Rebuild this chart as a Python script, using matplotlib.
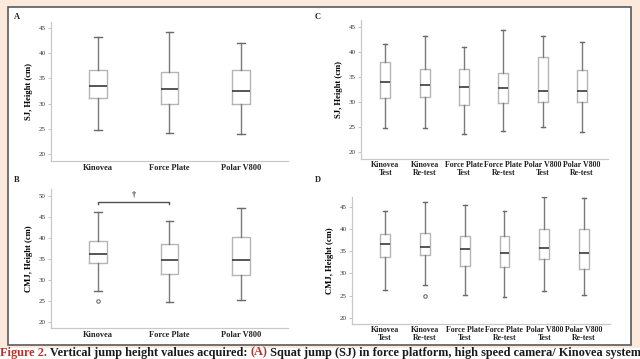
import matplotlib
matplotlib.use("Agg")
import matplotlib.pyplot as plt
from matplotlib.patches import Rectangle

# --- data ---
groups3 = ["Kinovea", "Force Plate", "Polar V800"]
groups6 = ["Kinovea\nTest", "Kinovea\nRe-test", "Force Plate\nTest",
           "Force Plate\nRe-test", "Polar V800\nTest", "Polar V800\nRe-test"]

# each row: whislo, q1, med, q3, whishi
sj_a = [[24.8, 31.1, 33.6, 36.7, 43.2],
        [24.2, 29.9, 32.9, 36.3, 44.3],
        [24.0, 30.0, 32.6, 36.6, 42.1]]
cmj_b = [[27.3, 34.0, 36.0, 39.2, 46.0],
         [24.7, 31.4, 34.6, 38.6, 44.0],
         [25.2, 31.0, 34.7, 40.1, 47.1]]
fliers_b = [[24.9], [], []]

sj_c = [[24.8, 30.9, 34.1, 38.0, 41.7],
        [24.9, 31.1, 33.5, 36.6, 43.3],
        [23.6, 29.4, 33.0, 36.6, 41.1],
        [24.2, 29.8, 32.9, 35.9, 44.5],
        [25.0, 30.0, 32.2, 39.0, 43.2],
        [24.0, 30.0, 32.2, 36.5, 42.1]]
cmj_d = [[26.2, 33.8, 36.6, 39.0, 44.1],
         [27.3, 34.1, 36.0, 39.2, 46.1],
         [25.1, 31.8, 35.6, 38.4, 45.6],
         [24.7, 31.4, 34.7, 38.5, 44.1],
         [26.1, 33.2, 35.7, 40.1, 47.3],
         [25.2, 31.1, 34.6, 40.1, 47.1]]
fliers_d = [[], [24.9], [], [], [], []]

caption = [("Figure 2.", "#b8322a"),
           (" Vertical jump height values acquired: ", "#1a1a1a"),
           ("(A)", "#b8322a"),
           (" Squat jump (SJ) in force platform, high speed camera/ Kinovea system", "#1a1a1a")]

SERIF = "Liberation Serif"
W, H = 640, 359


def to_stats(rows, fliers=None):
    out = []
    for i, r in enumerate(rows):
        out.append({"whislo": r[0], "q1": r[1], "med": r[2], "q3": r[3],
                    "whishi": r[4],
                    "fliers": fliers[i] if fliers else []})
    return out


def px_axes(fig, left, top, right, bottom):
    return fig.add_axes([left / W, 1 - bottom / H, (right - left) / W, (bottom - top) / H])


def draw_panel(ax, stats, labels, ylim, xlim, ticks, ylabel, capw, xfs, xpad):
    ax.bxp(stats, positions=range(1, len(stats) + 1), widths=0.25,
           capwidths=capw, patch_artist=False,
           boxprops=dict(color="#b5b5b5", lw=1.0),
           whiskerprops=dict(color="#7a7a7a", lw=1.0),
           capprops=dict(color="#6a6a6a", lw=1.0),
           medianprops=dict(color="#3a3a3a", lw=1.2),
           flierprops=dict(marker="o", markersize=2.5, markerfacecolor="none",
                           markeredgecolor="#707070", markeredgewidth=0.8))
    ax.set_ylim(*ylim)
    ax.set_xlim(*xlim)
    ax.set_yticks(ticks)
    ax.set_yticklabels([str(t) for t in ticks], fontsize=5, family=SERIF, color="#333333")
    ax.set_xticks(range(1, len(labels) + 1))
    ax.set_xticklabels(labels, fontsize=xfs, family=SERIF, fontweight="bold",
                       linespacing=1.0, color="#222222")
    ax.tick_params(axis="y", length=2, width=0.6, color="#bbbbbb", pad=2)
    ax.tick_params(axis="x", length=0, pad=xpad)
    for s in ["top", "right"]:
        ax.spines[s].set_visible(False)
    for s in ["left", "bottom"]:
        ax.spines[s].set_color("#c8c8c8")
        ax.spines[s].set_linewidth(0.9)
    ax.set_facecolor("none")
    ax.set_ylabel(ylabel, fontsize=6.2, family=SERIF, fontweight="bold", labelpad=4)


fig = plt.figure(figsize=(6.4, 3.59), dpi=100)
fig.patch.set_facecolor("#fbe9dc")

# white panel with frame
fig.patches.append(Rectangle((8 / W, 1 - 345 / H), 623 / W, 338 / H,
                             transform=fig.transFigure, facecolor="white",
                             edgecolor="#5a5a5a", lw=1.2, zorder=-2))
# caption strip
fig.patches.append(Rectangle((0, 0), 1, 1 - 348 / H, transform=fig.transFigure,
                             facecolor="white", edgecolor="none", zorder=-2))

ax_a = px_axes(fig, 51, 22, 288, 161)
draw_panel(ax_a, to_stats(sj_a), groups3, (18.57, 46.25), (0.34, 3.66),
           [20, 25, 30, 35, 40, 45], "SJ, Height (cm)", 0.11, 6, 2.5)

ax_b = px_axes(fig, 51, 189, 288, 328)
draw_panel(ax_b, to_stats(cmj_b, fliers_b), groups3, (18.45, 51.6), (0.34, 3.66),
           [20, 25, 30, 35, 40, 45, 50], "CMJ, Height (cm)", 0.11, 6, 2.5)
# significance bracket
ax_b.plot([1, 1, 2, 2], [48.1, 48.5, 48.5, 48.1], color="#505050", lw=1.0)
ax_b.text(1.5, 49.2, "\u2020", ha="center", va="bottom", fontsize=6,
          family=SERIF, fontweight="bold", color="#333333")

ax_c = px_axes(fig, 361, 20, 608, 159)
draw_panel(ax_c, to_stats(sj_c), groups6, (18.6, 46.45), (0.38, 6.66),
           [20, 25, 30, 35, 40, 45], "SJ, Height (cm)", 0.1, 5.7, 1.5)

ax_d = px_axes(fig, 352, 197, 610, 324)
draw_panel(ax_d, to_stats(cmj_d, fliers_d), groups6, (18.57, 47.3), (0.17, 6.65),
           [20, 25, 30, 35, 40, 45], "CMJ, Height (cm)", 0.1, 5.7, 1.5)

for letter, x, y in [("A", 17, 17), ("B", 17, 180), ("C", 318, 17), ("D", 318, 180)]:
    fig.text(x / W, 1 - y / H, letter, fontsize=6, family=SERIF, fontweight="bold",
             ha="center", va="center", color="#222222")

# caption along the bottom edge; pieces placed one after another
fig.canvas.draw()
renderer = fig.canvas.get_renderer()
x = 0.0
for txt, col in caption:
    t = fig.text(x, 0.3 / H, txt, fontsize=8.8, family=SERIF, fontweight="bold",
                 color=col, va="bottom", ha="left")
    bb = t.get_window_extent(renderer=renderer)
    x += bb.width / W

fig.savefig("out.png", dpi=100, facecolor=fig.get_facecolor())
